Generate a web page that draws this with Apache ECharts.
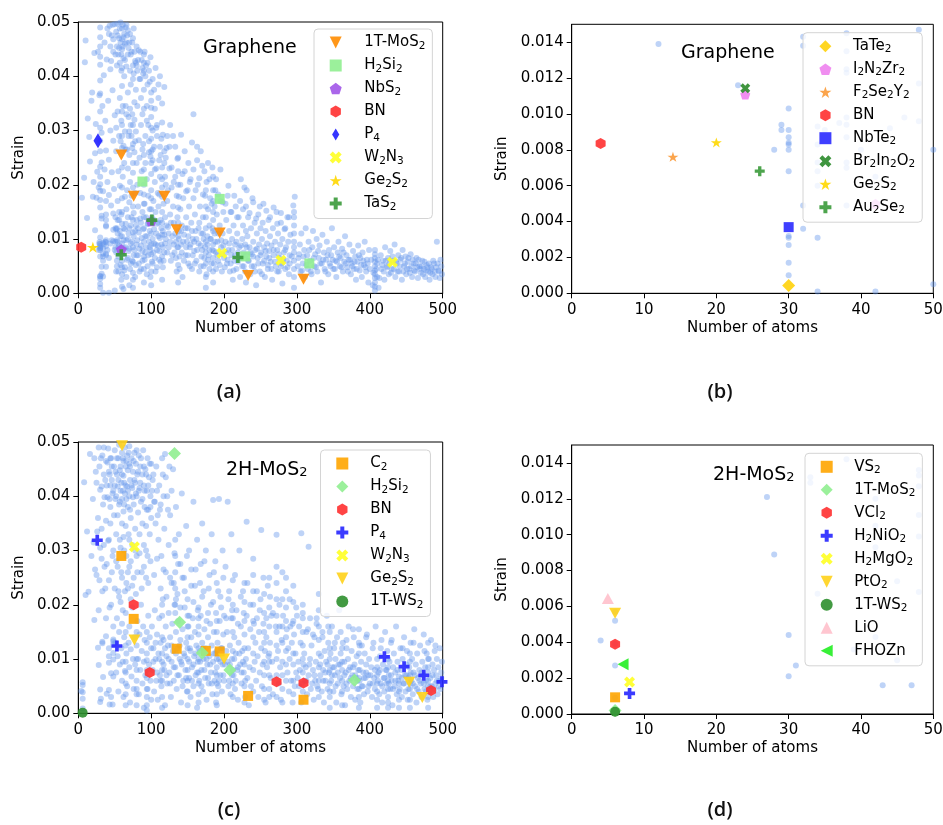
<!DOCTYPE html>
<html><head><meta charset="utf-8">
<script src="https://cdn.jsdelivr.net/npm/echarts@6/dist/echarts.min.js"></script>
<style>html,body{margin:0;padding:0;background:#fff}#c{width:943px;height:825px}</style>
</head><body><div id="c"></div>
<script>
// ---------- tick values ----------
const xTicksWide = [0, 100, 200, 300, 400, 500];
const yTicksWide = [0, 0.01, 0.02, 0.03, 0.04, 0.05];
const xTicksNarrow = [0, 10, 20, 30, 40, 50];
const yTicksNarrow = [0, 0.002, 0.004, 0.006, 0.008, 0.010, 0.012, 0.014];

const panelTitles = ['Graphene', 'Graphene', '2H-MoS2', '2H-MoS2'];
const panelLabels = ['(a)', '(b)', '(c)', '(d)'];

// ---------- panel (a) markers: Graphene, all sizes ----------
const a_1TMoS2 = [[59,.0255],[76,.0179],[118,.0179],[135,.0117],[194,.0111],[233,.0033],[309,.0026]];
const a_H2Si2 = [[88,.0206],[194,.0174],[229,.0068],[317,.0055]];
const a_NbS2 = [[59,.0081],[100,.0133]];
const a_BN = [[4,.0085]];
const a_P4 = [[27,.0281]];
const a_W2N3 = [[197,.0074],[278,.0061],[431,.0057]];
const a_Ge2S2 = [[20,.0085]];
const a_TaS2 = [[59,.0071],[101,.0135],[219,.0066]];

// ---------- panel (b) markers: Graphene, small ----------
const b_TaTe2 = [[30,.00043]];
const b_I2N2Zr2 = [[24,.01108],[42,.0050]];
const b_F2Se2Y2 = [[14,.00761]];
const b_BN = [[4,.00836]];
const b_NbTe2 = [[30,.00369]];
const b_Br2In2O2 = [[24,.01143]];
const b_Ge2S2 = [[20,.00841]];
const b_Au2Se2 = [[26,.00681]];

// ---------- panel (c) markers: 2H-MoS2, all sizes ----------
const c_C2 = [[59,.0290],[76,.0174],[135,.0119],[175,.0115],[194,.0114],[233,.0032],[309,.0025]];
const c_H2Si2 = [[132,.0479],[139,.0168],[170,.0111],[208,.0080],[379,.0061]];
const c_BN = [[76,.0200],[98,.0075],[272,.0058],[309,.0056],[484,.0042]];
const c_P4 = [[26,.0319],[53,.0124],[420,.0104],[447,.0086],[474,.0070],[499,.0058]];
const c_W2N3 = [[77,.0307]];
const c_Ge2S2 = [[60,.0493],[77,.0135],[200,.0100],[454,.0057],[472,.0029]];
const c_1TWS2 = [[6,.0001]];

// ---------- panel (d) markers: 2H-MoS2, small ----------
const d_VS2 = [[6,.00093]];
const d_1TMoS2 = [[6,.00019]];
const d_VCl2 = [[6,.00389]];
const d_H2NiO2 = [[8,.00115]];
const d_H2MgO2 = [[8,.00179]];
const d_PtO2 = [[6,.00562]];
const d_1TWS2 = [[6,.00013]];
const d_LiO = [[5,.00644]];
const d_FHOZn = [[7.1,.00277]];

// ---------- background: all Graphene structures ----------
const bgA1 = [
[12,.0139],[23,.0116],[28,.0080],[29,.0094],[29,.0091],[30,.0103],[30,.0091],[30,.0087],[30,.0084],[30,.0083],[30,.0080],[30,.0068],[30,.0032],[30,.0031],[30,.0027],[30,.0017],[30,.0010],[32,.0143],[32,.0138],[32,.0049],[32,.0036],[34,.0031],[34,.0001],[34,.0093],[34,.0083],[34,.0073],[34,.0068],[34,.0060],[35,.0091],[37,.0095],[38,.0145],[38,.0135],[38,.0125],[38,.0123],[38,.0098],[38,.0094],[38,.0087],[38,.0073],[38,.0070],[38,.0049],[40,.0080],[42,.0065],[42,.0001],[44,.0092],[46,.0098],[48,.0147],[48,.0117],[48,.0096],[50,.0080],[50,.0005],
[5,.0176],[8,.0213],[9,.0426],[10,.0466],[13,.0322],[15,.0288],[16,.0243],[18,.0355],[19,.0370],[20,.0178],[21,.0205],[22,.0443],[23,.0258],[24,.0312],[25,.0176],[26,.0224],[27,.0445],[28,.0195],[29,.0365],
[30,.0158],[30,.0172],[30,.0189],[30,.0201],[30,.0215],[30,.0233],[30,.0262],[30,.0281],[30,.0305],[30,.0335],[30,.0368],[30,.0392],[30,.0421],[30,.0436],[30,.0455],[30,.0472],[30,.0490],
[32,.0241],[32,.0296],[33,.0345],[34,.0188],[35,.0402],[36,.0228],[36,.0462],[37,.0318],[38,.0170],[38,.0263],[39,.0431],[40,.0205],[40,.0488],[41,.0355],[42,.0246],[42,.0181],[43,.0493],[44,.0300],[44,.0413],[45,.0162],[46,.0475],[46,.0223],[47,.0374],[48,.0281],[48,.0445],[49,.0192],[50,.0496],[50,.0328],
[52,.0482],[53,.0455],[54,.0497],[55,.0440],[56,.0470],[57,.0425],[58,.0499],[58,.0462],[59,.0410],[60,.0488],[60,.0450],[60,.0382],[61,.0495],[62,.0472],[62,.0433],[63,.0400],[64,.0460],[65,.0490],[65,.0345],[66,.0418],[67,.0475],[68,.0440],[68,.0370],[69,.0325],[70,.0462],[70,.0298],[71,.0410],[72,.0385],[73,.0445],[74,.0330],[75,.0470],[76,.0405],[77,.0352],[78,.0428],[78,.0280],[79,.0375],[80,.0455],[80,.0420],
[51,.0120],[51,.0085],[52,.0262],[53,.0060],[54,.0170],[54,.0095],[55,.0225],[55,.0040],[56,.0135],[57,.0198],[57,.0075],[58,.0280],[58,.0105],[59,.0025],[60,.0310],[60,.0150],[60,.0092],[60,.0060],[61,.0215],[62,.0120],[62,.0008],[63,.0240],[63,.0083],[64,.0178],[64,.0048],[65,.0265],[65,.0128],[66,.0098],[66,.0030],[67,.0190],[68,.0230],[68,.0140],[68,.0065],[69,.0110],[70,.0255],[70,.0168],[70,.0082],[70,.0015],[71,.0205],[72,.0125],[72,.0055],[73,.0290],[73,.0180],[74,.0095],[75,.0222],[75,.0038],[76,.0148],[76,.0070],[77,.0260],[78,.0115],[78,.0185],[79,.0052],[80,.0240],[80,.0135],[80,.0090],
[82,.0430],[84,.0395],[85,.0445],[86,.0360],[88,.0415],[88,.0330],[90,.0440],[90,.0375],[92,.0400],[94,.0345],[95,.0425],[96,.0310],[98,.0390],[100,.0355],[100,.0325],[102,.0300],[104,.0375],[105,.0340],[108,.0290],[110,.0385],[112,.0270],[115,.0315],[118,.0380],[120,.0250],
[81,.0200],[82,.0160],[82,.0070],[83,.0112],[84,.0250],[84,.0040],[85,.0185],[86,.0130],[86,.0088],[87,.0225],[88,.0150],[88,.0060],[89,.0275],[90,.0200],[90,.0120],[90,.0095],[90,.0020],[91,.0165],[92,.0240],[92,.0075],[93,.0140],[94,.0105],[94,.0210],[95,.0050],[96,.0180],[96,.0128],[97,.0260],[98,.0155],[98,.0085],[99,.0030],[100,.0220],[100,.0190],[100,.0110],[100,.0072],[101,.0140],[102,.0245],[102,.0055],[103,.0170],[104,.0118],[104,.0092],[105,.0205],[106,.0150],[106,.0040],[107,.0230],[108,.0128],[108,.0080],[109,.0185],[110,.0105],[110,.0160],[111,.0062],[112,.0215],[113,.0135],[114,.0090],[115,.0195],[116,.0115],[116,.0048],[117,.0165],[118,.0240],[118,.0075],[119,.0140],[120,.0200],[120,.0100],
[122,.0170],[123,.0122],[124,.0085],[125,.0230],[126,.0145],[127,.0060],[128,.0195],[129,.0105],[130,.0290],[130,.0160],[131,.0130],[132,.0075],[133,.0215],[134,.0095],[135,.0180],[135,.0040],[136,.0140],[137,.0250],[138,.0115],[139,.0068],[140,.0200],[140,.0155],[141,.0090],[142,.0125],[143,.0030],[144,.0175],[145,.0108],[146,.0225],[147,.0070],[148,.0140],[149,.0095],[150,.0190],[150,.0120],[151,.0055],[152,.0160],[153,.0085],[154,.0210],[155,.0130],[156,.0045],[157,.0100],[158,.0330],[158,.0175],[159,.0078],[160,.0145],[161,.0115],[162,.0060],[163,.0270],[164,.0200],[165,.0092],[166,.0130],[167,.0160],[168,.0050],[169,.0110],[170,.0235],[170,.0080],[171,.0140],[172,.0100],[173,.0065],[174,.0180],[175,.0120],[176,.0035],[177,.0090],[178,.0155],[179,.0070],[180,.0210],[180,.0125],[180,.0045],[182,.0100],[183,.0165],[184,.0080],[185,.0135],[186,.0055],[187,.0110],[188,.0190],[189,.0075],[190,.0145],[191,.0095],[192,.0060],[194,.0125],[195,.0170],[196,.0085],[197,.0040],[198,.0110],[199,.0150],[200,.0065],
[202,.0095],[203,.0135],[204,.0055],[205,.0180],[206,.0080],[207,.0115],[208,.0040],[209,.0150],[210,.0070],[211,.0100],[212,.0025],[213,.0125],[214,.0060],[215,.0090],[216,.0160],[217,.0045],[218,.0110],[219,.0075],[220,.0140],[221,.0085],[222,.0030],[223,.0210],[224,.0065],[225,.0100],[226,.0125],[227,.0050],[228,.0195],[229,.0090],[230,.0160],[230,.0115],[230,.0070],[230,.0020],[232,.0105],[233,.0140],[234,.0060],[235,.0085],[236,.0035],[237,.0120],[238,.0072],[239,.0175],[240,.0095],[241,.0050],[242,.0130],[243,.0080],[244,.0015],[245,.0110],[246,.0065],[247,.0145],[248,.0090],[249,.0040],[250,.0120],[251,.0075],[252,.0100],[253,.0055],[254,.0165],[255,.0085],[256,.0030],[257,.0115],[258,.0068],[259,.0092],[260,.0045],[261,.0135],[262,.0078],[263,.0105],[264,.0058],[265,.0088],[266,.0025],[267,.0120],[268,.0070],[270,.0095],[271,.0050],[272,.0150],[273,.0080],[274,.0110],[275,.0040],[276,.0065],[277,.0090],[278,.0130],[279,.0055],[280,.0100],[280,.0018],[282,.0075],[283,.0118],[284,.0045],[285,.0085],[286,.0060],[287,.0140],[288,.0095],[289,.0035],[290,.0070],[291,.0108],
[296,.0010],[296,.0030],[296,.0045],[296,.0060],[296,.0075],[296,.0085],[296,.0095],[296,.0110],[296,.0125],[296,.0140],[296,.0150],[295,.0162],[297,.0178],
[302,.0065],[304,.0090],[305,.0040],[306,.0110],[308,.0055],[310,.0080],[311,.0030],[312,.0120],[314,.0070],[315,.0045],[316,.0095],[318,.0060],[320,.0035],[321,.0085],[322,.0115],[324,.0050],[325,.0072],[327,.0100],[328,.0040],[330,.0065],[331,.0088],[333,.0020],[334,.0055],[335,.0108],[337,.0075],[338,.0045],[340,.0062],[341,.0095],[343,.0035],[344,.0080],[345,.0055],[347,.0070],[348,.0120],[350,.0045],[351,.0085],[353,.0060],[354,.0030],[356,.0075],[357,.0095],[359,.0050],[360,.0065],[362,.0082],[363,.0040],[365,.0058],[366,.0105],[368,.0070],[369,.0048],[371,.0062],[372,.0090],[374,.0035],[375,.0055],[377,.0078],[378,.0045],[380,.0068],[381,.0025],[383,.0058],[384,.0088],[386,.0042],[387,.0065],[389,.0030],[390,.0075],[392,.0052],[393,.0095],[395,.0040],[396,.0062],[398,.0020],[399,.0080],
[407,.0005],[407,.0012],[407,.0020],[407,.0028],[407,.0035],[407,.0042],[407,.0050],[407,.0058],[407,.0065],[407,.0072],[407,.0080],[404,.0015],[410,.0030],[410,.0055],[412,.0010],
[415,.0070],[416,.0045],[418,.0060],[420,.0025],[421,.0085],[423,.0050],[425,.0065],[426,.0035],[428,.0078],[430,.0045],[432,.0060],[434,.0090],[435,.0030],[437,.0055],[439,.0070],[440,.0040],[442,.0062],[444,.0025],[445,.0080],[447,.0050],[449,.0068],[450,.0035],[452,.0058],[454,.0045],[456,.0072],[458,.0030],[460,.0055],[462,.0040],[464,.0065],[466,.0028],[468,.0050],[470,.0038],[472,.0060],[474,.0045],[476,.0030],[478,.0052],[480,.0040],[482,.0025],[484,.0048],[486,.0035],[488,.0055],[490,.0030],[492,.0095],[494,.0042],[496,.0028],[498,.0050],[499,.0035]
];
const bgA2 = [
[60,.0012],[60,.0035],[60,.0048],[60,.0105],[60,.0128],[60,.0175],[60,.0195],[60,.0232],[60,.0268],[60,.0290],[60,.0335],[60,.0415],[60,.0468],
[75,.0010],[75,.0025],[75,.0058],[75,.0085],[75,.0112],[75,.0135],[75,.0160],[75,.0195],[75,.0240],[75,.0275],[75,.0310],[75,.0395],[75,.0420],
[90,.0045],[90,.0068],[90,.0140],[90,.0165],[90,.0182],[90,.0228],[90,.0255],[90,.0340],[90,.0410],[90,.0425],
[100,.0015],[100,.0040],[100,.0090],[100,.0130],[100,.0155],[100,.0175],[100,.0240],[100,.0262],[100,.0285],[100,.0305],[100,.0342],[100,.0370],
[115,.0025],[115,.0068],[115,.0108],[115,.0130],[115,.0150],[115,.0178],[115,.0210],[115,.0232],[115,.0350],
[137,.0020],[137,.0052],[137,.0085],[137,.0105],[137,.0130],[137,.0158],[137,.0200],[137,.0225],
[175,.0010],[175,.0030],[175,.0055],[175,.0075],[175,.0095],[175,.0140],[175,.0160],[175,.0190],
[185,.0020],[185,.0040],[185,.0065],[185,.0090],[185,.0115],[185,.0150],[185,.0170],[185,.0190],[185,.0215],
[42,.0478],[44,.0455],[45,.0428],[47,.0495],[48,.0468],[51,.0440],[53,.0420],[54,.0475],[56,.0452],[57,.0488],[59,.0440],[61,.0455],[63,.0478],[64,.0430],[66,.0495],[66,.0462],[68,.0485],[69,.0452],[71,.0478],[72,.0440],[74,.0462],[76,.0488],[77,.0445],[79,.0425],[81,.0410],[83,.0448],[85,.0395],[87,.0430],[89,.0405],[91,.0445],[93,.0420],[95,.0385],[97,.0410],[99,.0435],[102,.0395],[106,.0415],[110,.0360],[112,.0400],
[52,.0305],[54,.0335],[56,.0290],[57,.0360],[59,.0318],[61,.0345],[62,.0272],[64,.0298],[66,.0330],[67,.0265],[69,.0290],[71,.0340],[72,.0310],[74,.0268],[77,.0320],[79,.0298],[81,.0345],[83,.0282],[86,.0310],[88,.0265],[92,.0290],[94,.0318],[97,.0280],[99,.0252],[104,.0270],[107,.0305],[111,.0245],[114,.0285],[118,.0262],[122,.0290],[125,.0270],
[51,.0095],[51,.0140],[52,.0075],[53,.0120],[53,.0050],[54,.0110],[55,.0085],[56,.0150],[52,.0040],[52,.0118],[53,.0098],[54,.0135],[55,.0068],[56,.0088],[57,.0115],[58,.0052],[59,.0145],[61,.0072],[62,.0098],[63,.0042],[64,.0118],[65,.0085],[66,.0155],[67,.0062],[68,.0100],[69,.0078],[70,.0120],[71,.0045],[72,.0092],[73,.0140],[74,.0060],[76,.0105],[77,.0080],[78,.0030],[79,.0125],[80,.0070],[81,.0098],[82,.0120],[83,.0055],[84,.0082],[85,.0138],[86,.0045],[87,.0102],[88,.0078],[89,.0118],[91,.0062],[92,.0105],[93,.0085],[94,.0035],[95,.0128],[96,.0070],[97,.0095],[98,.0115],[99,.0080],[101,.0058],[102,.0100],[103,.0075],[104,.0135],[105,.0065],[106,.0090],[107,.0110],[108,.0048],[109,.0088],[110,.0130],[111,.0078],[112,.0102],[113,.0058],[114,.0120],[116,.0085],[117,.0060],[118,.0108],[119,.0092],[121,.0125],[122,.0075],[124,.0110],[126,.0095],[127,.0130],[129,.0070],
[131,.0090],[133,.0110],[134,.0065],[136,.0085],[138,.0100],[139,.0045],[141,.0115],[142,.0075],[144,.0095],[145,.0060],[147,.0120],[148,.0085],[150,.0070],[151,.0105],[153,.0050],[154,.0090],[156,.0115],[157,.0070],[159,.0095],[160,.0055],[162,.0100],[163,.0080],[165,.0120],[166,.0040],[168,.0088],[169,.0068],[171,.0110],[172,.0050],[174,.0085],[177,.0105],[178,.0062],[180,.0080],[181,.0100],[183,.0055],[184,.0120],[186,.0078],[188,.0095],[189,.0045],[191,.0070],[192,.0110],[194,.0052],[196,.0098],[197,.0072],[199,.0088],[201,.0048],[203,.0075],[205,.0062],[207,.0092],[209,.0055],[211,.0080],[213,.0042],[215,.0070],[217,.0095],[219,.0058],[221,.0065],[223,.0088],[225,.0050],[227,.0075],[229,.0040],
[231,.0085],[233,.0060],[236,.0075],[238,.0050],[240,.0068],[242,.0040],[245,.0082],[247,.0055],[250,.0070],[252,.0035],[255,.0060],[257,.0078],[260,.0052],[262,.0065],[265,.0045],[268,.0080],[270,.0058],[273,.0040],[275,.0072],[278,.0050],[281,.0062],[284,.0080],[287,.0048],[290,.0055],[293,.0068],
[301,.0050],[303,.0072],[307,.0042],[309,.0068],[313,.0052],[317,.0080],[319,.0040],[323,.0065],[326,.0048],[329,.0078],[332,.0055],[336,.0062],[339,.0040],[342,.0070],[346,.0050],[349,.0062],[352,.0045],[355,.0058],[358,.0068],[361,.0048],[364,.0075],[367,.0055],[370,.0040],[373,.0062],[376,.0050],[379,.0058],[382,.0045],[385,.0070],[388,.0052],[391,.0060],[394,.0048],[397,.0055],[400,.0045],[402,.0062],[405,.0038],[409,.0045],[411,.0062],[413,.0028],[417,.0052],[419,.0040],[422,.0060],[424,.0048],[427,.0055],[429,.0038],[431,.0068],[433,.0045],[436,.0058],[438,.0040],[441,.0050],[443,.0065],[446,.0040],[448,.0055],[451,.0045],[453,.0065],[455,.0038],[457,.0050],[459,.0062],[461,.0042],[463,.0055],[465,.0048],[467,.0062],[469,.0045],[471,.0050],[473,.0035],[475,.0058],[477,.0042],[479,.0048],[481,.0055],[483,.0038],[485,.0045],[487,.0060],[489,.0040],[491,.0048],[493,.0055],[495,.0040],[497,.0062]
];
const bgA3 = [
[102,.0265],[105,.0228],[108,.0310],[111,.0182],[113,.0255],[116,.0292],[119,.0215],[121,.0268],[123,.0190],[126,.0310],[128,.0232],[131,.0205],[133,.0270],[136,.0248],[138,.0178],[141,.0292],[143,.0220],[146,.0262],[148,.0188],[151,.0240],[153,.0205],[156,.0278],[158,.0228],[161,.0190],[163,.0245],[166,.0212],[168,.0262],[171,.0182],[173,.0225],[176,.0205],[178,.0240],[181,.0175],[184,.0232],[187,.0160],[189,.0210],[192,.0182],[195,.0228],[198,.0168],
[202,.0165],[206,.0198],[210,.0150],[214,.0180],[218,.0140],[222,.0170],[226,.0155],[231,.0190],[235,.0148],[240,.0168],[244,.0138],[249,.0160],[253,.0130],[258,.0152],[263,.0140],[268,.0158],[273,.0128],[278,.0148],[284,.0120],[289,.0140]
];

// ---------- background: all 2H-MoS2 structures ----------
const bgC1 = [
[4,.0041],[6,.0052],[6,.0027],[6,.0039],[6,.0009],[6,.0057],[27,.0121],[28,.0089],[30,.0044],[31,.0027],[30,.0021],[43,.0016],[47,.0016],[38,.0142],[33,.0132],[33,.0129],[48,.0136],[48,.0133],[48,.0127],[42,.0120],[48,.0111],[48,.0099],[42,.0105],[42,.0093],[45,.0074],[34,.0067],[48,.0068],[42,.0043],[45,.0030],[39,.0036],
[8,.0426],[10,.0218],[12,.0335],[14,.0224],[16,.0478],[18,.0290],[20,.0395],[22,.0172],[24,.0445],[25,.0255],[27,.0360],[28,.0190],[30,.0412],[30,.0305],[31,.0470],[32,.0340],[33,.0225],[34,.0385],[35,.0490],[36,.0270],[37,.0430],[38,.0355],[38,.0175],[40,.0462],[40,.0398],[41,.0318],[42,.0245],[43,.0440],[44,.0470],[44,.0420],[44,.0380],[44,.0350],[45,.0200],[46,.0455],[47,.0290],[48,.0410],[48,.0160],[49,.0365],[50,.0485],
[51,.0445],[52,.0400],[52,.0280],[53,.0470],[54,.0365],[55,.0430],[55,.0225],[56,.0495],[56,.0385],[57,.0320],[58,.0455],[58,.0410],[59,.0260],[60,.0480],[60,.0440],[60,.0395],[60,.0350],[61,.0190],[62,.0465],[62,.0372],[63,.0425],[63,.0300],[64,.0490],[64,.0405],[65,.0455],[65,.0345],[66,.0240],[67,.0475],[67,.0418],[68,.0380],[68,.0448],[69,.0330],[70,.0492],[70,.0460],[70,.0400],[70,.0270],[71,.0430],[72,.0360],[72,.0210],[73,.0470],[74,.0415],[74,.0310],[75,.0445],[76,.0385],[76,.0250],[77,.0480],[78,.0425],[78,.0340],[79,.0460],[80,.0400],[80,.0290],[81,.0440],[82,.0370],[83,.0475],[84,.0415],[84,.0330],[85,.0455],[86,.0390],[87,.0260],[88,.0440],[88,.0350],[89,.0485],[90,.0420],[90,.0310],[91,.0380],[92,.0450],[93,.0345],[94,.0410],[95,.0470],[95,.0290],[96,.0375],[97,.0435],[98,.0330],[99,.0400],[100,.0460],[100,.0360],
[51,.0130],[52,.0075],[53,.0175],[54,.0105],[55,.0040],[56,.0150],[57,.0090],[58,.0205],[59,.0120],[60,.0060],[60,.0165],[61,.0095],[62,.0030],[63,.0140],[64,.0078],[65,.0185],[66,.0110],[67,.0050],[68,.0230],[69,.0130],[70,.0085],[70,.0160],[71,.0020],[72,.0118],[73,.0068],[74,.0195],[75,.0100],[76,.0045],[77,.0140],[78,.0090],[79,.0220],[80,.0125],[80,.0060],[81,.0170],[82,.0100],[83,.0035],[84,.0145],[85,.0080],[86,.0200],[87,.0115],[88,.0055],[89,.0160],[90,.0095],[90,.0010],[91,.0135],[92,.0070],[93,.0250],[94,.0110],[95,.0045],[96,.0180],[97,.0090],[98,.0140],[99,.0060],[100,.0120],[100,.0025],
[94,.0005],[94,.0015],[94,.0030],[94,.0045],[94,.0065],[94,.0080],[94,.0098],[94,.0130],[94,.0150],
[102,.0430],[104,.0390],[106,.0350],[108,.0410],[110,.0320],[112,.0375],[114,.0290],[116,.0440],[118,.0340],[119,.0478],[120,.0260],[122,.0400],[124,.0310],[126,.0365],[128,.0240],[130,.0450],[132,.0295],[134,.0380],[136,.0220],[138,.0330],[140,.0275],[142,.0405],[145,.0250],[148,.0345],[150,.0210],[152,.0300],[155,.0265],[158,.0390],[160,.0235],[163,.0320],[165,.0195],[168,.0275],[170,.0350],[172,.0225],[175,.0300],[178,.0185],[180,.0255],[183,.0330],[185,.0205],[185,.0393],[188,.0280],[190,.0240],[193,.0395],[195,.0215],[198,.0300],[200,.0180],
[101,.0160],[102,.0080],[103,.0120],[104,.0040],[105,.0190],[106,.0100],[107,.0060],[108,.0145],[109,.0025],[110,.0110],[111,.0175],[112,.0070],[113,.0130],[114,.0050],[115,.0095],[116,.0210],[117,.0135],[118,.0080],[119,.0015],[120,.0160],[121,.0105],[122,.0055],[123,.0125],[124,.0185],[125,.0075],[126,.0140],[127,.0030],[128,.0095],[129,.0165],[130,.0115],[131,.0060],[132,.0200],[133,.0085],[134,.0150],[135,.0045],[136,.0120],[137,.0170],[138,.0070],[139,.0100],[140,.0135],[141,.0020],[142,.0090],[143,.0155],[144,.0060],[145,.0110],[146,.0195],[147,.0080],[148,.0130],[149,.0040],[150,.0100],[151,.0160],[152,.0065],[153,.0120],[154,.0030],[155,.0140],[156,.0085],[157,.0175],[158,.0050],[159,.0105],[160,.0150],[161,.0070],[162,.0125],[163,.0010],[164,.0095],[165,.0145],[166,.0060],[167,.0115],[168,.0180],[169,.0080],[170,.0130],[171,.0040],[172,.0100],[173,.0155],[174,.0065],[175,.0120],[176,.0025],[177,.0090],[178,.0140],[179,.0055],[180,.0105],[181,.0165],[182,.0075],[183,.0125],[184,.0035],[185,.0095],[186,.0150],[187,.0060],[188,.0110],[189,.0020],[190,.0085],[191,.0130],[192,.0050],[193,.0100],[194,.0170],[195,.0070],[196,.0120],[197,.0040],[198,.0090],[199,.0145],[200,.0060],
[133,.0185],[133,.0200],[133,.0230],[133,.0260],[133,.0290],[133,.0320],
[202,.0270],[204,.0150],[205,.0095],[205,.0390],[206,.0210],[207,.0060],[208,.0125],[209,.0035],[210,.0175],[210,.0330],[211,.0100],[212,.0245],[213,.0070],[214,.0140],[215,.0045],[216,.0110],[217,.0190],[218,.0080],[219,.0025],[220,.0130],[221,.0300],[222,.0090],[223,.0160],[224,.0055],[225,.0115],[226,.0225],[227,.0075],[228,.0145],[229,.0030],[230,.0100],[231,.0353],[231,.0180],[232,.0065],[233,.0120],[234,.0015],[235,.0085],[236,.0155],[237,.0050],
[240,.0040],[240,.0080],[240,.0110],[240,.0140],[240,.0170],[240,.0200],[240,.0225],[240,.0255],[240,.0285],
[242,.0095],[243,.0130],[244,.0060],[245,.0175],[246,.0105],[247,.0030],[248,.0150],[249,.0075],[250,.0210],[251,.0338],[251,.0120],[252,.0050],[253,.0090],[254,.0165],[255,.0070],[256,.0115],[257,.0020],[258,.0140],[259,.0085],[260,.0235],[261,.0105],[262,.0045],[263,.0130],[264,.0065],[265,.0180],[266,.0095],[267,.0035],
[272,.0030],[272,.0070],[272,.0100],[272,.0125],[272,.0150],[272,.0180],[272,.0210],[272,.0240],[272,.0270],[272,.0329],
[274,.0115],[275,.0055],[276,.0160],[277,.0085],[278,.0025],[279,.0135],
[285,.0060],[285,.0090],[285,.0115],[285,.0140],[285,.0170],[285,.0195],[285,.0225],[285,.0250],
[287,.0075],[288,.0120],[289,.0040],[290,.0100],[291,.0160],[292,.0060],[293,.0130],[294,.0020],[295,.0090],[296,.0145],[297,.0050],[298,.0110],[299,.0075],[300,.0180],
[306,.0332],[316,.0307],
[308,.0040],[308,.0075],[308,.0100],[308,.0125],[308,.0150],[308,.0175],[308,.0200],
[330,.0030],[330,.0060],[330,.0085],[330,.0110],[330,.0135],[330,.0160],[330,.0190],[330,.0220],
[302,.0095],[303,.0050],[305,.0130],[306,.0020],[310,.0110],[311,.0060],[312,.0085],[314,.0035],[315,.0155],[316,.0070],[318,.0100],[319,.0045],[320,.0125],[322,.0080],[323,.0025],[324,.0140],[325,.0060],[326,.0095],[327,.0175],[328,.0050],[332,.0070],[333,.0105],[334,.0040],[335,.0150],[336,.0080],[337,.0020],[338,.0115],[339,.0060],[340,.0095],[341,.0180],[342,.0045],[343,.0130],[344,.0075],[345,.0030],[346,.0110],[347,.0060],[348,.0160],[349,.0085],[350,.0040],[351,.0120],[352,.0070],[353,.0100],[354,.0020],[355,.0140],[356,.0055],[357,.0090],[358,.0190],[359,.0065],[360,.0110],[361,.0035],[362,.0080],[363,.0130],[364,.0050],[365,.0095],[366,.0015],[367,.0075],[368,.0120],[369,.0045],[370,.0100],[371,.0160],[372,.0060],[373,.0085],[374,.0030],[375,.0115],[376,.0070],[377,.0050],[378,.0140],[379,.0090],[380,.0025],[381,.0065],[382,.0105],[383,.0045],[384,.0080],[385,.0155],[386,.0060],[387,.0020],[388,.0095],[389,.0125],[390,.0050],[391,.0075],[392,.0035],[393,.0110],[394,.0065],[395,.0090],[396,.0145],[397,.0040],[398,.0070],[399,.0100],[400,.0055],
[410,.0010],[410,.0025],[410,.0040],[410,.0055],[410,.0070],[410,.0085],[410,.0100],
[440,.0010],[440,.0025],[440,.0040],[440,.0055],[440,.0068],
[402,.0085],[403,.0030],[404,.0120],[406,.0065],[407,.0045],[408,.0160],[412,.0075],[413,.0035],[414,.0105],[415,.0055],[416,.0135],[417,.0020],[418,.0090],[419,.0065],[420,.0040],[421,.0150],[422,.0080],[423,.0055],[424,.0115],[425,.0030],[426,.0070],[427,.0095],[428,.0045],[429,.0130],[430,.0060],[431,.0015],[432,.0085],[433,.0110],[434,.0050],[435,.0075],[436,.0160],[437,.0035],[438,.0095],[439,.0060],[442,.0120],[443,.0080],[444,.0030],[445,.0100],[446,.0055],[447,.0140],[448,.0070],[449,.0040],[450,.0090],[451,.0115],[452,.0025],[453,.0065],[454,.0085],[455,.0045],[456,.0130],[457,.0060],[458,.0100],[459,.0035],[460,.0075],[461,.0155],[462,.0050],[463,.0090],[464,.0020],[465,.0110],[466,.0065],[467,.0040],[468,.0080],[469,.0125],[470,.0055],[471,.0030],[472,.0095],[473,.0070],[474,.0145],[475,.0045],[476,.0085],[477,.0060],[478,.0110],[479,.0025],[480,.0075],[481,.0100],[482,.0040],[483,.0065],[484,.0135],[485,.0050],[486,.0090],[487,.0030],[488,.0080],[489,.0115],[490,.0055],[491,.0070],[492,.0100],[493,.0035],[494,.0085],[495,.0060],[496,.0120],[497,.0045],[498,.0075],[499,.0095]
];
const bgC2 = [
[22,.0470],[25,.0425],[28,.0490],[29,.0455],[32,.0418],[33,.0475],[35,.0440],[36,.0398],[38,.0465],[39,.0420],[41,.0488],[42,.0445],[43,.0395],[45,.0470],[46,.0430],[47,.0405],[49,.0455],[50,.0420],[51,.0395],[53,.0440],[54,.0418],[55,.0470],[57,.0448],[57,.0390],[59,.0425],[61,.0410],[61,.0470],[62,.0438],[63,.0385],[65,.0420],[66,.0465],[66,.0395],[68,.0410],[69,.0480],[71,.0455],[71,.0375],[73,.0420],[75,.0398],[76,.0465],[77,.0430],[79,.0405],[80,.0485],[82,.0445],[83,.0410],[85,.0425],[86,.0470],[88,.0395],[90,.0455],[91,.0410],[93,.0440],[94,.0375],[96,.0420],[98,.0460],[99,.0380],[101,.0410],[103,.0440],[105,.0390],[107,.0455],[109,.0365],[111,.0420],[113,.0385],[115,.0470],[117,.0400],[120,.0435],[123,.0375],[125,.0455],[128,.0410],
[21,.0315],[23,.0265],[26,.0335],[29,.0245],[32,.0285],[35,.0310],[37,.0230],[39,.0275],[42,.0320],[43,.0195],[46,.0260],[48,.0300],[50,.0230],[52,.0330],[54,.0270],[56,.0215],[58,.0305],[60,.0250],[62,.0325],[64,.0225],[66,.0290],[68,.0260],[70,.0320],[72,.0280],[74,.0235],[78,.0300],[81,.0260],[84,.0295],[87,.0230],[90,.0270],[93,.0300],[96,.0240],[99,.0280],[104,.0255],[108,.0285],[113,.0230],[117,.0265],[121,.0215],[126,.0250],
[65,.0015],[65,.0035],[65,.0055],[65,.0075],[65,.0095],[65,.0125],[65,.0150],
[80,.0015],[80,.0035],[80,.0045],[80,.0080],[80,.0100],[80,.0150],
[115,.0010],[115,.0030],[115,.0060],[115,.0080],[115,.0110],[115,.0140],[115,.0180],[115,.0200],
[150,.0015],[150,.0040],[150,.0060],[150,.0080],[150,.0120],[150,.0140],[150,.0160],[150,.0180],
[165,.0020],[165,.0035],[165,.0055],[165,.0075],[165,.0100],[165,.0120],[165,.0160],[165,.0175],
[190,.0015],[190,.0035],[190,.0055],[190,.0070],[190,.0100],[190,.0115],[190,.0150],[190,.0170],
[103,.0095],[106,.0130],[108,.0075],[111,.0100],[113,.0060],[117,.0090],[119,.0120],[121,.0070],[124,.0100],[126,.0055],[128,.0125],[131,.0085],[134,.0110],[136,.0070],[139,.0125],[141,.0095],[143,.0050],[146,.0105],[148,.0065],[152,.0095],[154,.0115],[156,.0060],[158,.0090],[161,.0110],[163,.0075],[167,.0095],[169,.0050],[171,.0120],[173,.0080],[176,.0100],[178,.0065],[181,.0090],[183,.0055],[186,.0110],[188,.0075],[193,.0060],[195,.0095],[197,.0120],[199,.0070],[201,.0090],[203,.0115],[206,.0050],[208,.0090],[211,.0070],[214,.0100],[216,.0060],[219,.0085],[221,.0110],[224,.0075],[226,.0095],[229,.0060],
[212,.0030],[212,.0055],[212,.0080],[212,.0115],[212,.0150],[212,.0175],[212,.0200],
[228,.0020],[228,.0050],[228,.0090],[228,.0120],[228,.0170],[228,.0205],[228,.0240],
[255,.0025],[255,.0045],[255,.0095],[255,.0130],[255,.0150],[255,.0185],[255,.0220],
[262,.0030],[262,.0070],[262,.0095],[262,.0110],[262,.0160],[262,.0195],[262,.0250],
[280,.0020],[280,.0045],[280,.0070],[280,.0095],[280,.0130],[280,.0160],[280,.0210],[280,.0260],
[295,.0035],[295,.0060],[295,.0110],[295,.0170],[295,.0205],[295,.0235],
[301,.0065],[304,.0080],[307,.0055],[309,.0090],[313,.0060],[317,.0090],[321,.0055],[324,.0070],[329,.0045],[332,.0090],[336,.0060],[339,.0075],[342,.0090],[345,.0055],[348,.0070],[351,.0085],[353,.0050],[356,.0075],[359,.0090],[362,.0060],[365,.0070],[368,.0055],[371,.0080],[374,.0065],[377,.0085],[380,.0070],[383,.0060],[386,.0080],[389,.0050],[392,.0065],[395,.0075],[398,.0050],[401,.0070],[404,.0055],[407,.0080],[411,.0060],[414,.0080],[417,.0050],[420,.0065],[423,.0080],[426,.0055],[429,.0070],[432,.0045],[435,.0060],[438,.0080],[441,.0045],[444,.0065],[447,.0055],[450,.0070],[453,.0045],[456,.0075],[459,.0055],[462,.0070],[465,.0045],[468,.0060],[471,.0075],[474,.0055],[477,.0040],[480,.0060],[483,.0050],[486,.0070],[489,.0045],[492,.0060],[495,.0050],[498,.0065],
[345,.0010],[345,.0040],[345,.0080],[345,.0100],[345,.0120],[345,.0150],
[362,.0015],[362,.0040],[362,.0095],[362,.0120],
[385,.0010],[385,.0030],[385,.0045],[385,.0065],[385,.0110],[385,.0130],
[425,.0010],[425,.0020],[425,.0045],[425,.0060],[425,.0085],[425,.0100],
[455,.0010],[455,.0025],[455,.0055],[455,.0070],[455,.0095],[455,.0110],
[480,.0010],[480,.0030],[480,.0050],[480,.0085],[480,.0100],[480,.0130]
];
const bgC3 = [
[131,.0240],[134,.0210],[137,.0275],[140,.0195],[143,.0250],[146,.0225],[149,.0290],[152,.0180],[155,.0235],[158,.0205],[161,.0265],[164,.0190],[167,.0240],[170,.0215],[173,.0280],[176,.0170],[179,.0230],[182,.0200],[186,.0260],[189,.0185],[192,.0225],[196,.0195],[199,.0250],[203,.0175],[207,.0225],[211,.0190],[215,.0255],[219,.0165],[223,.0215],[227,.0185],[232,.0240],[236,.0200],[241,.0165],[245,.0225],[249,.0190],[254,.0250],[258,.0175],[263,.0215],[267,.0185],[271,.0160],[276,.0200],[281,.0180],[286,.0155],[290,.0210],[294,.0165],[299,.0195],[303,.0160],[308,.0185],[313,.0150],[318,.0175],[322,.0145],[327,.0165],[335,.0140],[343,.0160],[352,.0130],[360,.0150],[368,.0135],[377,.0155],[386,.0125],[395,.0140],[405,.0130],[415,.0120],[430,.0135],[445,.0120],[460,.0130],[475,.0115],[490,.0125]
];
const bgA = bgA1.concat(bgA2, bgA3);
const bgC = bgC1.concat(bgC2, bgC3);

// ---------- marker shapes ----------
const S = {
  triDown: 'path://M-1,-1 L1,-1 L0,1 Z',
  triUp: 'path://M-1,1 L1,1 L0,-1 Z',
  triLeft: 'path://M1,-1 L1,1 L-1,0 Z',
  square: 'path://M-1,-1 L1,-1 L1,1 L-1,1 Z',
  diamond: 'path://M0,-1 L1,0 L0,1 L-1,0 Z',
  thinDiamond: 'path://M0,-1 L0.6,0 L0,1 L-0.6,0 Z',
  pentagon: 'path://M0,-1 L0.951,-0.309 L0.588,0.809 L-0.588,0.809 L-0.951,-0.309 Z',
  hexagon: 'path://M0,-1 L0.866,-0.5 L0.866,0.5 L0,1 L-0.866,0.5 L-0.866,-0.5 Z',
  xFilled: 'path://M-1,-0.5 L-0.5,-1 L0,-0.5 L0.5,-1 L1,-0.5 L0.5,0 L1,0.5 L0.5,1 L0,0.5 L-0.5,1 L-1,0.5 L-0.5,0 Z',
  plus: 'path://M-1,-3 L1,-3 L1,-1 L3,-1 L3,1 L1,1 L1,3 L-1,3 L-1,1 L-3,1 L-3,-1 L-1,-1 Z',
  star: 'path://M0,-1 L0.2245,-0.309 L0.951,-0.309 L0.363,0.118 L0.588,0.809 L0,0.382 L-0.588,0.809 L-0.363,0.118 L-0.951,-0.309 L-0.2245,-0.309 Z',
  circle: 'circle'
};

const panels = [
  { bg: bgA, markers: [
    ['a:1T-MoS2', a_1TMoS2, S.triDown, [12,11], '#ff8c00'],
    ['a:H2Si2', a_H2Si2, S.square, 10, '#90ee90'],
    ['a:NbS2', a_NbS2, S.pentagon, [11,10], '#a155e8'],
    ['a:BN', a_BN, S.hexagon, [10,11], '#ff3030'],
    ['a:P4', a_P4, S.thinDiamond, [9,15], '#1f1fff'],
    ['a:W2N3', a_W2N3, S.xFilled, 11, '#ffff22'],
    ['a:Ge2S2', a_Ge2S2, S.star, [12,11], '#ffd700'],
    ['a:TaS2', a_TaS2, S.plus, 11, '#3a9a3a']
  ]},
  { bg: bgA, markers: [
    ['b:TaTe2', b_TaTe2, S.diamond, 13, '#ffd20a'],
    ['b:I2N2Zr2', b_I2N2Zr2, S.pentagon, [10,10], '#ee82ee'],
    ['b:F2Se2Y2', b_F2Se2Y2, S.star, [11,10], '#fb9a38'],
    ['b:BN', b_BN, S.hexagon, [10,11], '#ff3030'],
    ['b:NbTe2', b_NbTe2, S.square, 10, '#2a2aff'],
    ['b:Br2In2O2', b_Br2In2O2, S.xFilled, 10, '#2a8a2a'],
    ['b:Ge2S2', b_Ge2S2, S.star, [11,10], '#ffd700'],
    ['b:Au2Se2', b_Au2Se2, S.plus, 10, '#3a9a3a']
  ]},
  { bg: bgC, markers: [
    ['c:C2', c_C2, S.square, 10, '#ffa500'],
    ['c:H2Si2', c_H2Si2, S.diamond, 13, '#90ee90'],
    ['c:BN', c_BN, S.hexagon, [10,11], '#ff3030'],
    ['c:P4', c_P4, S.plus, 11, '#2626ff'],
    ['c:W2N3', c_W2N3, S.xFilled, 11, '#ffff22'],
    ['c:Ge2S2', c_Ge2S2, S.triDown, [12,11], '#ffd21a'],
    ['c:1T-WS2', c_1TWS2, S.circle, 10, '#2d8f2d']
  ]},
  { bg: bgC, markers: [
    ['d:VS2', d_VS2, S.square, 10, '#ffa500'],
    ['d:1T-MoS2', d_1TMoS2, S.diamond, 13, '#90ee90'],
    ['d:VCl2', d_VCl2, S.hexagon, [10,11], '#ff3030'],
    ['d:H2NiO2', d_H2NiO2, S.plus, 11, '#2626ff'],
    ['d:H2MgO2', d_H2MgO2, S.xFilled, 11, '#ffff22'],
    ['d:PtO2', d_PtO2, S.triDown, [12,11], '#ffd21a'],
    ['d:1T-WS2', d_1TWS2, S.circle, 10, '#2d8f2d'],
    ['d:LiO', d_LiO, S.triUp, [12,11], '#ffc0cb'],
    ['d:FHOZn', d_FHOZn, S.triLeft, [11,12], '#22ee22']
  ]}
];

const FONT = 'DejaVu Sans';
const grids = [
  { left: 78.3, top: 22, width: 364.4, height: 271.3 },
  { left: 571.7, top: 24.3, width: 361.6, height: 269 },
  { left: 78.3, top: 442, width: 364.4, height: 271.3 },
  { left: 571.7, top: 445, width: 361.6, height: 269 }
];
const legendPos = [
  { left: 314, top: 29, pl: 15.7, sp: 17.6 },
  { left: 803, top: 32.7, pl: 16.4, sp: 16.6 },
  { left: 320.5, top: 450, pl: 15.8, sp: 17 },
  { left: 805, top: 453.3, pl: 15.7, sp: 16.6 }
];

function subRich(s) { return s.replace(/([A-Za-z])(\d)/g, '$1{s|$2}'); }

function makeX(i, wide) {
  const t = wide ? xTicksWide : xTicksNarrow;
  return {
    gridIndex: i, type: 'value', min: 0, max: wide ? 500 : 50, interval: wide ? 100 : 10,
    axisLine: { show: true, onZero: false, lineStyle: { color: '#000', width: 1 } },
    axisTick: { show: true, length: 5, lineStyle: { color: '#000' }, customValues: t },
    axisLabel: { color: '#000', fontSize: 15, fontFamily: FONT, margin: 9, customValues: t },
    splitLine: { show: false },
    name: 'Number of atoms', nameLocation: 'middle', nameGap: 27,
    nameTextStyle: { color: '#000', fontSize: 15, fontFamily: FONT }
  };
}
function makeY(i, wide) {
  const t = wide ? yTicksWide : yTicksNarrow;
  return {
    gridIndex: i, type: 'value', min: 0, max: wide ? 0.05 : 0.015, interval: wide ? 0.01 : 0.002,
    axisLine: { show: true, onZero: false, lineStyle: { color: '#000', width: 1 } },
    axisTick: { show: true, length: 5, lineStyle: { color: '#000' }, customValues: t },
    axisLabel: { color: '#000', fontSize: 15, fontFamily: FONT, margin: 8, customValues: t,
      formatter: v => v.toFixed(wide ? 2 : 3) },
    splitLine: { show: false },
    name: 'Strain', nameLocation: 'middle', nameGap: wide ? 52 : 62, nameRotate: 90,
    nameTextStyle: { color: '#000', fontSize: 15, fontFamily: FONT }
  };
}

const series = [];
const legends = [];
panels.forEach((p, i) => {
  series.push({
    type: 'scatter', xAxisIndex: i, yAxisIndex: i, data: p.bg, symbol: 'circle', symbolSize: 6,
    itemStyle: { color: '#6495ed', opacity: 0.42 }, silent: true, clip: true, z: 1, large: false
  });
  p.markers.forEach(m => {
    series.push({
      type: 'scatter', name: m[0], xAxisIndex: i, yAxisIndex: i, data: m[1], symbol: m[2], symbolSize: m[3],
      itemStyle: { color: m[4], opacity: 0.9 }, clip: true, z: 3
    });
  });
  const lp = legendPos[i];
  legends.push({
    orient: 'vertical', left: lp.left, top: lp.top, padding: [4.5, 7, 6, lp.pl],
    itemWidth: 12, itemHeight: 12, itemGap: 5, selectedMode: false,
    backgroundColor: 'rgba(255,255,255,0.8)', borderColor: '#d4d4d4', borderWidth: 1, borderRadius: 4,
    data: p.markers.map(m => ({ name: m[0], icon: m[2] })),
    formatter: n => '{g| }' + subRich(n.replace(/^[a-d]:/, '')),
    textStyle: { color: '#000', fontSize: 15, fontFamily: FONT, lineHeight: 18,
      rich: { s: { fontSize: 10.5, fontFamily: FONT, color: '#000', verticalAlign: 'bottom' },
              g: { width: lp.sp, fontSize: 15 } } }
  });
});

const titlePos = [[203, 48], [681, 53], [226, 470], [713, 475]];
const labelPos = [[229, 392], [720, 392], [229, 810], [720, 810]];
const graphics = [];
panelTitles.forEach((t, i) => {
  graphics.push({ type: 'text', x: titlePos[i][0], y: titlePos[i][1], z: 10,
    style: { text: subRich(t), fill: '#000', font: '19px "DejaVu Sans"',
      verticalAlign: 'middle', align: 'left',
      rich: { s: { fontSize: 13, fontFamily: FONT, fill: '#000', verticalAlign: 'bottom' } } } });
});
panelLabels.forEach((t, i) => {
  graphics.push({ type: 'text', x: labelPos[i][0], y: labelPos[i][1], z: 10,
    style: { text: t, fill: '#111', font: '600 20px "Open Sans"', align: 'center', verticalAlign: 'middle' } });
});

const chart = echarts.init(document.getElementById('c'), null, { renderer: 'canvas' });
chart.setOption({
  backgroundColor: '#fff',
  animation: false,
  grid: grids.map(g => Object.assign({ show: true, borderColor: '#000', borderWidth: 1, backgroundColor: 'transparent', outerBoundsMode: 'none', containLabel: false }, g)),
  xAxis: [makeX(0, true), makeX(1, false), makeX(2, true), makeX(3, false)],
  yAxis: [makeY(0, true), makeY(1, false), makeY(2, true), makeY(3, false)],
  legend: legends,
  series: series,
  graphic: graphics
});
</script></body></html>
